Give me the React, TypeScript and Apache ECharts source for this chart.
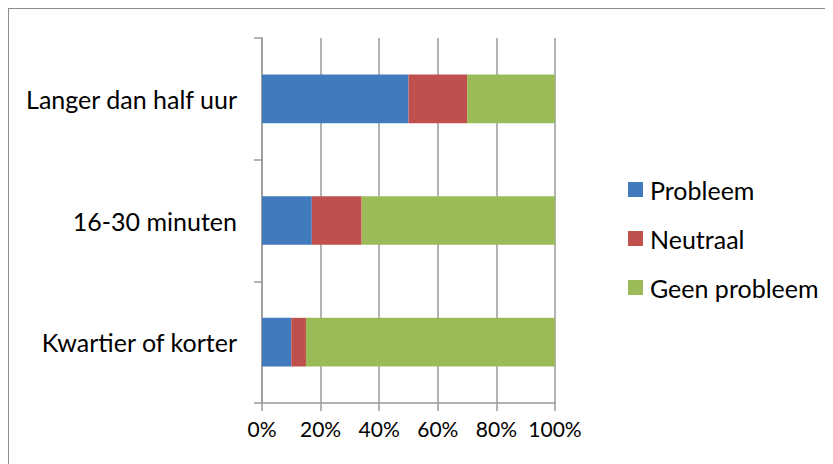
import React, { useEffect, useRef } from "react";
import * as echarts from "echarts";

const categories = ["Kwartier of korter", "16-30 minuten", "Langer dan half uur"];
const seriesNames = ["Probleem", "Neutraal", "Geen probleem"];
const probleem = [0.10, 0.17, 0.50];
const neutraal = [0.05, 0.17, 0.20];
const geenProbleem = [0.85, 0.66, 0.30];
const colors = ["#427bbd", "#c0504d", "#9bbb59"];
const seriesValues = [probleem, neutraal, geenProbleem];

const FONT = "Lato";

export default function App() {
  const ref = useRef<HTMLDivElement>(null);
  useEffect(() => {
    if (!ref.current) return;
    const chart = echarts.init(ref.current, null, { renderer: "svg" });
    chart.setOption({
      animation: false,
      color: colors,
      textStyle: { fontFamily: FONT },
      grid: { left: 253, top: 29, width: 293, height: 365, containLabel: false },
      legend: {
        orient: "vertical",
        left: 614,
        top: 163,
        itemWidth: 15,
        itemHeight: 15,
        itemGap: 24,
        icon: "rect",
        textStyle: { fontFamily: FONT, fontSize: 25, color: "#000", padding: [0, 0, 0, 2] },
        data: seriesNames,
      },
      xAxis: {
        type: "value",
        min: 0,
        max: 1,
        interval: 0.2,
        axisLine: { show: true, lineStyle: { color: "#9a9a9a", width: 1.5 } },
        axisTick: { show: true, length: 8, lineStyle: { color: "#9a9a9a", width: 1.5 } },
        splitLine: { show: true, lineStyle: { color: "#9a9a9a", width: 1.5 } },
        axisLabel: {
          formatter: (v: number) => Math.round(v * 100) + "%",
          fontFamily: FONT,
          fontSize: 21,
          color: "#000",
          margin: 15,
        },
      },
      yAxis: {
        type: "category",
        data: categories,
        axisLine: { show: true, lineStyle: { color: "#9a9a9a", width: 1.5 } },
        axisTick: { show: true, length: 8, lineStyle: { color: "#9a9a9a", width: 1.5 } },
        axisLabel: { fontFamily: FONT, fontSize: 25, color: "#000", margin: 25 },
      },
      series: seriesNames.map((name, i) => ({
        name,
        type: "bar",
        stack: "total",
        barWidth: "40%",
        data: seriesValues[i],
        itemStyle: { color: colors[i] },
      })),
    });
    return () => chart.dispose();
  }, []);
  return (
    <div
      style={{
        width: 825,
        height: 456,
        borderTop: "1px solid #8c8c8c",
        borderLeft: "1px solid #8c8c8c",
        boxSizing: "border-box",
        overflow: "hidden",
      }}
    >
      <div ref={ref} style={{ width: 824, height: 455 }} />
    </div>
  );
}
